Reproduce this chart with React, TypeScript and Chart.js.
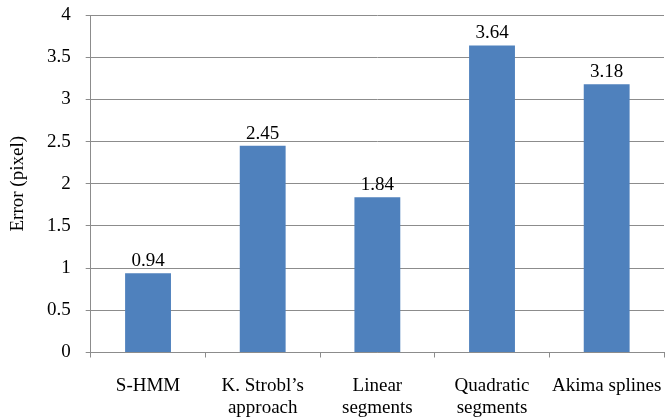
import React, { useEffect, useRef } from "react";
import { Chart, registerables } from "chart.js";

Chart.register(...registerables);

const categories: string[][] = [
  ["S-HMM"],
  ["K. Strobl\u2019s", "approach"],
  ["Linear", "segments"],
  ["Quadratic", "segments"],
  ["Akima splines"],
];
const errorValues: number[] = [0.94, 2.45, 1.84, 3.64, 3.18];
const yTicks: number[] = [0, 0.5, 1, 1.5, 2, 2.5, 3, 3.5, 4];

const FONT = "'Liberation Serif', 'Times New Roman', serif";
const GRID = "#8c8c8c";
const BAR = "#4f81bd";

const valueLabels = {
  id: "valueLabels",
  afterDatasetsDraw(chart: any) {
    const { ctx } = chart;
    const meta = chart.getDatasetMeta(0);
    ctx.save();
    ctx.font = `19px ${FONT}`;
    ctx.fillStyle = "#000";
    ctx.textAlign = "center";
    ctx.textBaseline = "alphabetic";
    meta.data.forEach((bar: any, i: number) => {
      ctx.fillText(errorValues[i].toFixed(2), bar.x, bar.y - 7);
    });
    ctx.restore();
  },
};

export default function App() {
  const ref = useRef<HTMLCanvasElement | null>(null);

  useEffect(() => {
    document.body.style.margin = "0";
    if (!ref.current) return;
    const chart = new Chart(ref.current, {
      type: "bar",
      data: {
        labels: categories,
        datasets: [
          {
            data: errorValues,
            backgroundColor: BAR,
            borderWidth: 0,
            barPercentage: 0.4,
            categoryPercentage: 1,
          },
        ],
      },
      options: {
        animation: false,
        responsive: false,
        devicePixelRatio: 1,
        layout: { padding: { top: 15, right: 7, bottom: 0, left: 0 } },
        plugins: { legend: { display: false }, tooltip: { enabled: false } },
        scales: {
          x: {
            afterFit: (s: any) => {
              s.height = 66.5;
            },
            grid: {
              drawOnChartArea: false,
              drawTicks: true,
              tickLength: 5,
              color: GRID,
              offset: true,
            },
            border: { color: GRID, width: 1 },
            ticks: {
              color: "#000",
              padding: 18,
              maxRotation: 0,
              autoSkip: false,
              font: { family: FONT, size: 19, lineHeight: 1.14 },
            },
          },
          y: {
            min: 0,
            max: 4,
            afterFit: (s: any) => {
              s.width = 90.7;
              // keep the top label overflow from pushing the plot down
              s.paddingTop = 11;
              s.paddingBottom = 0;
            },
            afterBuildTicks: (s: any) => {
              s.ticks = yTicks.map((v) => ({ value: v }));
            },
            grid: { color: GRID, tickLength: 5, lineWidth: 1 },
            border: { color: GRID, width: 1 },
            ticks: {
              color: "#000",
              padding: 15,
              font: { family: FONT, size: 19 },
              callback: (v: any) => String(v),
            },
            title: {
              display: true,
              text: "Error (pixel)",
              color: "#000",
              padding: { top: 7, bottom: 0 },
              font: { family: FONT, size: 19 },
            },
          },
        },
      },
      plugins: [valueLabels],
    });
    return () => chart.destroy();
  }, []);

  return (
    <div style={{ width: 671, height: 419, overflow: "hidden", background: "#fff" }}>
      <canvas ref={ref} width={680} height={419} style={{ display: "block" }} />
    </div>
  );
}
